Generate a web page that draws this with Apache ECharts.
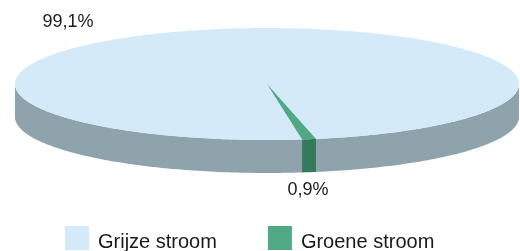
<!DOCTYPE html>
<html>
<head>
<meta charset="utf-8">
<script src="https://cdn.jsdelivr.net/npm/echarts@6/dist/echarts.min.js"></script>
<style>
  html, body { margin: 0; padding: 0; background: #fff; }
  #main { width: 520px; height: 251px; }
</style>
</head>
<body>
<div id="main"></div>
<script>
const categories = ['Grijze stroom', 'Groene stroom']
const shares = [99.1, 0.9]
const shareLabels = ['99,1%', '0,9%']

const topColors = ['#d5eaf8', '#50a884']
const sideColors = ['#8fa3ad', '#367a5d']

// ellipse of the top face, and the slab thickness
const geo = { cx: 267, cy: 84, rx: 252, ry: 56, depth: 33 }
const startDeg = 82
// where the percentage texts sit
const labelPos = [[68, 22], [308, 190]]

const total = shares.reduce((a, b) => a + b, 0)
let acc = startDeg
const spans = shares.map(v => {
    const s = acc
    acc += v / total * 360
    return [s, acc]
})

function pt(deg, dy) {
    const r = deg * Math.PI / 180
    return [geo.cx + geo.rx * Math.cos(r), geo.cy + geo.ry * Math.sin(r) + (dy || 0)]
}

function arc(a0, a1, dy) {
    const pts = []
    const n = Math.max(2, Math.ceil(Math.abs(a1 - a0)))
    for (let i = 0; i <= n; i++) {
        pts.push(pt(a0 + (a1 - a0) * i / n, dy))
    }
    return pts
}

function makeRender(idx) {
    return function (params, api) {
        const [a0, a1] = spans[idx]
        const children = []
        // front side walls (only the half facing the viewer)
        for (let k = 0; k < 3; k++) {
            const s = Math.max(a0, k * 360)
            const e = Math.min(a1, k * 360 + 180)
            if (e > s) {
                children.push({
                    type: 'polygon',
                    shape: { points: arc(s, e, 0).concat(arc(e, s, geo.depth)) },
                    style: { fill: sideColors[idx] }
                })
            }
        }
        children.push({
            type: 'polygon',
            shape: { points: [[geo.cx, geo.cy]].concat(arc(a0, a1, 0)) },
            style: { fill: topColors[idx] }
        })
        children.push({
            type: 'text',
            style: {
                text: shareLabels[idx],
                x: labelPos[idx][0],
                y: labelPos[idx][1],
                fill: '#1a1a1a',
                font: '18px Arial, "Liberation Sans", sans-serif',
                align: 'center',
                verticalAlign: 'middle'
            }
        })
        return { type: 'group', children: children }
    }
}

const chart = echarts.init(document.getElementById('main'))

let option = {
    animation: false,
    legend: {
        left: 65,
        top: 226,
        padding: 0,
        itemWidth: 24,
        itemHeight: 24,
        itemGap: 51,
        icon: 'rect',
        selectedMode: false,
        formatter: name => '{t|' + name + '}',
        textStyle: {
            rich: {
                t: {
                    fontSize: 20,
                    color: '#1a1a1a',
                    fontFamily: 'Arial, "Liberation Sans", sans-serif',
                    padding: [9, 0, 0, 4]
                }
            }
        },
        data: categories
    },
    series: categories.map((name, i) => ({
        type: 'custom',
        name: name,
        coordinateSystem: 'none',
        silent: true,
        itemStyle: { color: topColors[i] },
        data: [shares[i]],
        renderItem: makeRender(i)
    }))
}

chart.setOption(option)
</script>
</body>
</html>
